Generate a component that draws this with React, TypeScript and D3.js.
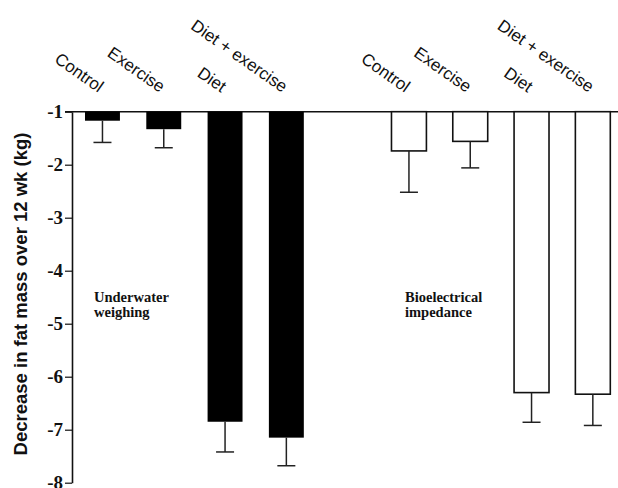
import React, { Component } from "react";
import * as d3 from "d3";

// values (kg, mean and mean - SE)
const treatments = ["Control", "Exercise", "Diet", "Diet + exercise"];
const methods = ["Underwater weighing", "Bioelectrical impedance"];
const underwaterMean = [-1.17, -1.33, -6.85, -7.15];
const underwaterLow = [-1.58, -1.68, -7.42, -7.68];
const bioMean = [-1.74, -1.56, -6.3, -6.33];
const bioLow = [-2.52, -2.06, -6.86, -6.92];
const yTicks = [-1, -2, -3, -4, -5, -6, -7, -8];
const yTitle = "Decrease in fat mass over 12 wk (kg)";

type Bar = { key: string; label: string; mean: number; low: number; filled: boolean };

const W = 618;
const H = 488;

export default class App extends Component {
  svgRef = React.createRef<SVGSVGElement>();

  componentDidMount() {
    this.createGraph();
  }

  componentWillUnmount() {
    if (this.svgRef.current) d3.select(this.svgRef.current).selectAll("*").remove();
  }

  createGraph() {
    const svg = d3.select(this.svgRef.current);
    svg.selectAll("*").remove();

    const bars: Bar[] = [];
    treatments.forEach((t, i) =>
      bars.push({ key: "uw" + i, label: t, mean: underwaterMean[i], low: underwaterLow[i], filled: true })
    );
    treatments.forEach((t, i) =>
      bars.push({ key: "bi" + i, label: t, mean: bioMean[i], low: bioLow[i], filled: false })
    );

    const slots = [...bars.slice(0, 4).map(d => d.key), "gap", ...bars.slice(4).map(d => d.key)];

    const x = d3.scaleBand<string>()
      .domain(slots)
      .range([72, 623.3])
      .paddingInner(0.43)
      .paddingOuter(0.212);

    const y = d3.scaleLinear()
      .domain([-1, -8])
      .range([111.7, 482.7]);

    // y axis
    const axis = d3.axisLeft(y)
      .tickValues(yTicks)
      .tickFormat(d => String(d))
      .tickSize(7)
      .tickSizeOuter(0)
      .tickPadding(2);

    const gy = svg.append("g")
      .attr("transform", "translate(72,0)")
      .call(axis);
    gy.select(".domain").attr("stroke", "#111").attr("stroke-width", 1.6);
    gy.selectAll(".tick line").attr("stroke", "#111").attr("stroke-width", 1.2);
    gy.selectAll(".tick text")
      .attr("fill", "#111")
      .style("font-family", "'Liberation Serif', 'Times New Roman', serif")
      .style("font-weight", "bold")
      .style("font-size", "19px");

    // baseline at -1
    svg.append("line")
      .attr("x1", 65).attr("x2", W)
      .attr("y1", y(-1)).attr("y2", y(-1))
      .attr("stroke", "#111").attr("stroke-width", 1.6);

    // bars
    svg.append("g")
      .selectAll("rect")
      .data(bars)
      .enter()
      .append("rect")
      .attr("x", d => x(d.key)!)
      .attr("y", y(-1))
      .attr("width", x.bandwidth())
      .attr("height", d => y(d.mean) - y(-1))
      .attr("fill", d => (d.filled ? "#000" : "#fff"))
      .attr("stroke", "#111")
      .attr("stroke-width", d => (d.filled ? 0 : 1.6));

    // error bars (downward only)
    const cap = 18;
    const err = svg.append("g").attr("stroke", "#222").attr("stroke-width", 1.5);
    err.selectAll("line.v")
      .data(bars)
      .enter()
      .append("line")
      .attr("class", "v")
      .attr("x1", d => x(d.key)! + x.bandwidth() / 2)
      .attr("x2", d => x(d.key)! + x.bandwidth() / 2)
      .attr("y1", d => y(d.mean))
      .attr("y2", d => y(d.low));
    err.selectAll("line.c")
      .data(bars)
      .enter()
      .append("line")
      .attr("class", "c")
      .attr("x1", d => x(d.key)! + x.bandwidth() / 2 - cap / 2)
      .attr("x2", d => x(d.key)! + x.bandwidth() / 2 + cap / 2)
      .attr("y1", d => y(d.low))
      .attr("y2", d => y(d.low));

    // rotated treatment labels
    svg.append("g")
      .selectAll("text")
      .data(bars)
      .enter()
      .append("text")
      .text(d => d.label)
      .attr("text-anchor", "end")
      .attr("transform", d => "translate(" + (x(d.key)! + x.bandwidth() / 2 - 4) + ",93) rotate(35)")
      .style("font-family", "'Liberation Sans', Arial, sans-serif")
      .style("font-size", "17px")
      .attr("fill", "#111");

    // method annotations
    const notes = [
      { lines: methods[0].split(" "), x: 94, y: 302 },
      { lines: methods[1].split(" "), x: 405, y: 302 },
    ];
    notes.forEach(n => {
      const t = svg.append("text")
        .attr("x", n.x)
        .attr("y", n.y)
        .attr("fill", "#111")
        .style("font-family", "'Liberation Serif', 'Times New Roman', serif")
        .style("font-weight", "bold")
        .style("font-size", "14.5px");
      n.lines.forEach((l, i) => {
        t.append("tspan").attr("x", n.x).attr("dy", i === 0 ? 0 : 15).text(l);
      });
    });

    // y title
    svg.append("text")
      .text(yTitle)
      .attr("text-anchor", "middle")
      .attr("transform", "translate(27,294) rotate(-90)")
      .attr("fill", "#111")
      .style("font-family", "'Liberation Sans', Arial, sans-serif")
      .style("font-weight", "bold")
      .style("font-size", "18.5px");
  }

  render() {
    return (
      <svg
        ref={this.svgRef}
        width={W}
        height={H}
        style={{ position: "absolute", left: 0, top: 0, background: "#fff" }}
      />
    );
  }
}
